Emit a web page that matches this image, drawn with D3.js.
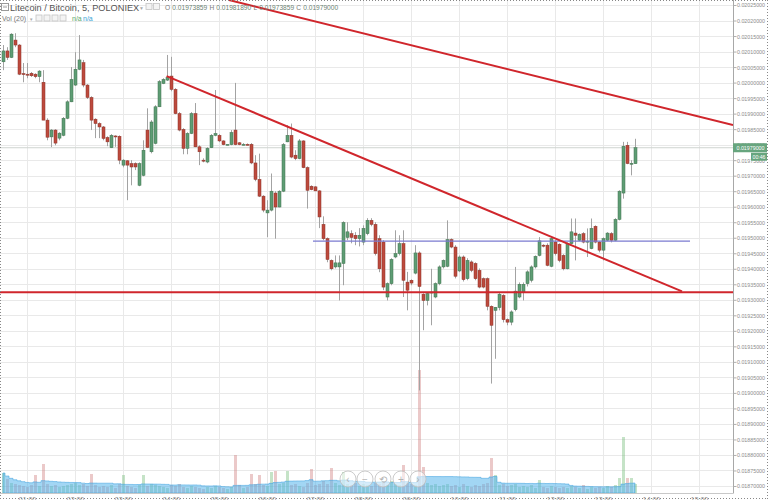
<!DOCTYPE html>
<html>
<head>
<meta charset="utf-8">
<script src="https://cdnjs.cloudflare.com/ajax/libs/d3/7.8.5/d3.min.js"></script>
<style>
	body { margin: 0; background: #ffffff; overflow: hidden; }
	#chart_div { width: 768px; height: 500px; }
	text { font-family: 'Liberation Sans', Arial, sans-serif; }
</style>
</head>
<body>
<div id="chart_div"></div>
<script>
// LTC/BTC 5 minute candles, Poloniex
var candle_start = '2017-06-05T00:30:00Z';
var candle_minutes = 5;

var opens = [
	0.020067, 0.020102, 0.020081, 0.020137, 0.020121, 0.020029, 0.020027, 0.02003, 0.020027, 0.020019,
	0.020001, 0.019879, 0.019825, 0.019847, 0.019821, 0.01983, 0.019885, 0.019938, 0.019992, 0.020043,
	0.020064, 0.019992, 0.019952, 0.019882, 0.019868, 0.019857, 0.019823, 0.01979, 0.019828, 0.019827,
	0.019734, 0.019748, 0.019739, 0.019739, 0.019669, 0.019701, 0.019847, 0.019777, 0.019804, 0.019922,
	0.019997, 0.020008, 0.020021, 0.019978, 0.0199, 0.019849, 0.019788, 0.019836, 0.0199, 0.019793,
	0.01975, 0.019744, 0.01979, 0.01983, 0.01983, 0.019812, 0.0198, 0.0198, 0.019847, 0.019806,
	0.0198, 0.019801, 0.019801, 0.019741, 0.019688, 0.019634, 0.01958, 0.019589, 0.019644, 0.019599,
	0.01965, 0.019809, 0.01983, 0.019766, 0.019755, 0.019812, 0.019726, 0.019666, 0.019664, 0.019651,
	0.019543, 0.019497, 0.019427, 0.019406, 0.019406, 0.019417, 0.019501, 0.019513, 0.019508, 0.019497,
	0.019486, 0.019513, 0.019556, 0.019543, 0.019497, 0.019486, 0.019309, 0.019352, 0.019438, 0.019449,
	0.019481, 0.019357, 0.019363, 0.019386, 0.019451, 0.019318, 0.019298, 0.019322, 0.019309, 0.019352,
	0.019406, 0.019408, 0.019494, 0.01947, 0.019393, 0.019438, 0.019368, 0.019422, 0.019417, 0.019395,
	0.019368, 0.019368, 0.019279, 0.019266, 0.019275, 0.019314, 0.019236, 0.019228, 0.019268, 0.019309,
	0.019325, 0.019352, 0.019363, 0.019406, 0.019443, 0.019476, 0.019476, 0.019408, 0.019486, 0.019479,
	0.019443, 0.0194, 0.019481, 0.019515, 0.019492, 0.019513, 0.019486, 0.019465, 0.019537, 0.019486,
	0.01946, 0.019492, 0.019513, 0.019492, 0.019559, 0.019644, 0.019798, 0.019739, 0.01973859
];
var highs = [
	0.020121, 0.020114, 0.020159, 0.020159, 0.020124, 0.020063, 0.020063, 0.020034, 0.02003, 0.02004,
	0.02004, 0.019885, 0.01985, 0.01985, 0.01984, 0.019889, 0.019943, 0.02005, 0.020098, 0.020153,
	0.020073, 0.019995, 0.019956, 0.019885, 0.019872, 0.01986, 0.019827, 0.019834, 0.01983, 0.01983,
	0.019753, 0.01975, 0.01975, 0.019743, 0.019743, 0.019814, 0.019917, 0.019879, 0.019927, 0.020008,
	0.020014, 0.020089, 0.020083, 0.019982, 0.019905, 0.019853, 0.01984, 0.019905, 0.019934, 0.019798,
	0.019756, 0.019792, 0.019834, 0.019976, 0.019834, 0.019814, 0.019801, 0.019847, 0.019999, 0.019808,
	0.019805, 0.019804, 0.019805, 0.019766, 0.019771, 0.019637, 0.019621, 0.019707, 0.01965, 0.019653,
	0.019805, 0.019863, 0.019868, 0.019782, 0.019818, 0.019814, 0.01973, 0.019669, 0.019666, 0.019653,
	0.019569, 0.019501, 0.01943, 0.019443, 0.019443, 0.019553, 0.01955, 0.019524, 0.019518, 0.019531,
	0.01954, 0.019563, 0.019563, 0.01955, 0.019508, 0.019492, 0.019356, 0.019434, 0.019524, 0.019508,
	0.019524, 0.01939, 0.019366, 0.019476, 0.019456, 0.019321, 0.019324, 0.0194, 0.019356, 0.019411,
	0.01943, 0.019556, 0.019498, 0.019476, 0.019443, 0.019443, 0.019434, 0.019427, 0.019421, 0.019401,
	0.019372, 0.019372, 0.019282, 0.019277, 0.019324, 0.019318, 0.01924, 0.019266, 0.019406, 0.019356,
	0.019356, 0.019395, 0.019411, 0.019443, 0.019502, 0.019479, 0.019482, 0.019501, 0.019492, 0.019482,
	0.019447, 0.019485, 0.019562, 0.019562, 0.019514, 0.019518, 0.01953, 0.019562, 0.01954, 0.019489,
	0.019501, 0.019518, 0.019518, 0.019563, 0.019653, 0.019809, 0.019809, 0.01975, 0.0198189
];
var lows = [
	0.02004, 0.020073, 0.020079, 0.020114, 0.020024, 0.020001, 0.020014, 0.020018, 0.020014, 0.020001,
	0.019879, 0.019814, 0.019792, 0.019798, 0.019814, 0.019827, 0.019882, 0.019937, 0.019989, 0.02004,
	0.019985, 0.019947, 0.019847, 0.019821, 0.019821, 0.019814, 0.019795, 0.019789, 0.019793, 0.019737,
	0.019727, 0.019621, 0.019669, 0.019718, 0.019666, 0.019698, 0.019789, 0.019772, 0.019801, 0.019921,
	0.019995, 0.020005, 0.019972, 0.019898, 0.019843, 0.019769, 0.019769, 0.019834, 0.019792, 0.019734,
	0.019743, 0.01974, 0.019789, 0.019827, 0.019808, 0.019798, 0.019798, 0.019798, 0.019798, 0.019798,
	0.019798, 0.019798, 0.019737, 0.019682, 0.019631, 0.019582, 0.019502, 0.019585, 0.019497, 0.019598,
	0.019647, 0.019808, 0.019756, 0.01975, 0.019753, 0.019724, 0.019594, 0.019653, 0.01965, 0.019531,
	0.019492, 0.019421, 0.019395, 0.019401, 0.019298, 0.019347, 0.019492, 0.019482, 0.019476, 0.019472,
	0.019476, 0.019508, 0.019537, 0.019443, 0.019389, 0.019331, 0.019298, 0.019347, 0.019434, 0.019443,
	0.019309, 0.019266, 0.019347, 0.019382, 0.019008, 0.019202, 0.019282, 0.019218, 0.019305, 0.019347,
	0.019401, 0.019405, 0.019466, 0.019369, 0.019389, 0.019359, 0.019363, 0.019389, 0.019363, 0.019337,
	0.019337, 0.019266, 0.01903, 0.01911, 0.019266, 0.019227, 0.019218, 0.019218, 0.019263, 0.019305,
	0.019298, 0.019343, 0.019356, 0.019401, 0.01944, 0.019469, 0.019408, 0.019405, 0.019443, 0.019421,
	0.019395, 0.019398, 0.019479, 0.019427, 0.019489, 0.019482, 0.019438, 0.019463, 0.019482, 0.019453,
	0.019427, 0.019489, 0.019485, 0.019489, 0.019556, 0.019626, 0.019737, 0.019701, 0.01973859
];
var closes = [
	0.020102, 0.020081, 0.020156, 0.020121, 0.020027, 0.020026, 0.020026, 0.020022, 0.020019, 0.020037,
	0.019879, 0.019824, 0.019847, 0.019805, 0.019837, 0.019885, 0.019938, 0.02001, 0.020043, 0.020073,
	0.019992, 0.019952, 0.019879, 0.019868, 0.019857, 0.01982, 0.019809, 0.01983, 0.019827, 0.01975,
	0.01975, 0.019734, 0.019728, 0.019728, 0.019739, 0.019782, 0.019791, 0.019873, 0.019922, 0.020003,
	0.02001, 0.020017, 0.019978, 0.0199, 0.019847, 0.019788, 0.019836, 0.0199, 0.019793, 0.019777,
	0.019748, 0.019788, 0.01983, 0.019836, 0.019812, 0.0198, 0.019801, 0.019839, 0.0198, 0.0198,
	0.019801, 0.0198, 0.019741, 0.019688, 0.019634, 0.019589, 0.019589, 0.01965, 0.019599, 0.01965,
	0.0198, 0.01983, 0.01976, 0.019755, 0.019812, 0.019726, 0.019653, 0.019655, 0.019651, 0.019567,
	0.019497, 0.01943, 0.0194, 0.019419, 0.019419, 0.019549, 0.019519, 0.019501, 0.019497, 0.019508,
	0.01953, 0.019556, 0.019543, 0.019449, 0.0194, 0.019341, 0.019352, 0.01943, 0.019449, 0.019481,
	0.019363, 0.019331, 0.019354, 0.019451, 0.019343, 0.019298, 0.01932, 0.019325, 0.019352, 0.019406,
	0.019427, 0.019494, 0.01947, 0.019376, 0.019438, 0.019365, 0.019427, 0.019395, 0.019368, 0.019341,
	0.019341, 0.019279, 0.019218, 0.019276, 0.019318, 0.019236, 0.019228, 0.019261, 0.019328, 0.01935,
	0.01935, 0.01939, 0.019406, 0.01944, 0.01949, 0.019473, 0.019411, 0.019497, 0.019449, 0.019427,
	0.0194, 0.019481, 0.019519, 0.019508, 0.019511, 0.019486, 0.019489, 0.01953, 0.019486, 0.01946,
	0.019497, 0.019515, 0.019492, 0.019559, 0.01965, 0.019795, 0.019739, 0.01974, 0.01979
];
var volumes = [
	20, 14, 10, 9, 8, 7, 6, 8, 18, 7,
	29, 9, 7, 8, 6, 7, 8, 9, 10, 8,
	9, 7, 19, 8, 6, 7, 6, 8, 5, 9,
	18, 7, 6, 5, 8, 18, 7, 9, 8, 7,
	6, 5, 8, 7, 9, 6, 5, 7, 6, 5,
	4, 6, 5, 7, 6, 5, 4, 6, 38, 8,
	5, 6, 19, 9, 18, 8, 7, 21, 22, 9,
	10, 22, 8, 9, 7, 6, 10, 24, 8, 9,
	12, 9, 25, 10, 8, 21, 9, 8, 10, 7,
	9, 8, 7, 10, 9, 11, 8, 12, 9, 8,
	28, 10, 9, 8, 123, 26, 10, 8, 9, 7,
	8, 9, 7, 8, 6, 9, 7, 6, 8, 7,
	9, 10, 35, 18, 8, 9, 7, 8, 9, 6,
	7, 6, 8, 5, 13, 6, 5, 7, 6, 5,
	6, 5, 7, 6, 5, 8, 4, 6, 5, 6,
	5, 7, 6, 8, 15, 56, 15, 15, 9
];

var price_ticks = [
	0.0187, 0.01875, 0.0188, 0.01885, 0.0189, 0.01895, 0.019, 0.01905,
	0.0191, 0.01915, 0.0192, 0.01925, 0.0193, 0.01935, 0.0194, 0.01945,
	0.0195, 0.01955, 0.0196, 0.01965, 0.0197, 0.01975, 0.0198, 0.01985,
	0.0199, 0.01995, 0.02, 0.02005, 0.0201, 0.02015, 0.0202, 0.02025
];
var hour_labels = ['01:00', '02:00', '03:00', '04:00', '05:00', '06:00', '07:00', '08:00',
	'09:00', '10:00', '11:00', '12:00', '13:00', '14:00', '15:00'];

// drawings: [candle index, price]
var trend_lines = [
	[[56.5, 0.020266], [182.5, 0.019863]],
	[[40.9, 0.020021], [169.75, 0.019327]]
];
var support_level = 0.019324;
var range_level = [[77.5, 0.019489], [171.75, 0.019489]];
var last_price = 0.01979;

var header_ohlc = ['O', '0.01973859', 'H', '0.01981890', 'L', '0.01973859', 'C', '0.01979000'];

var plot_right = 733;
var plot_bottom = 493;

function candle_time(i) {
	return new Date(Date.parse(candle_start) + i * candle_minutes * 60000);
}

function draw_svg(div_id) {
	var chart_div = document.getElementById(div_id);
	var svg = d3
		.select('#' + div_id)
		.append('svg')
		.attr('width', chart_div.clientWidth)
		.attr('height', chart_div.clientHeight);
	return svg;
}

function draw_chart() {
	var svg = draw_svg('chart_div');

	var x = d3
		.scaleUtc()
		.domain([candle_time(-0.75), candle_time(182.5)])
		.range([0, plot_right]);
	var y = d3.scaleLinear().domain([0.0187, 0.02025]).range([486, 5]);
	var vol_y = d3
		.scaleLinear()
		.domain([0, d3.max(volumes)])
		.range([plot_bottom, 370]);
	var xi = (i) => x(candle_time(i));

	var day = candle_start.slice(0, 10);
	var hour_times = hour_labels.map((h) => new Date(day + 'T' + h + ':00Z'));

	svg.append('defs')
		.append('clipPath')
		.attr('id', 'plot_clip')
		.append('rect')
		.attr('width', plot_right)
		.attr('height', plot_bottom);

	var plot = svg.append('g').attr('clip-path', 'url(#plot_clip)');

	// grid
	plot.selectAll('.h_grid')
		.data(price_ticks)
		.enter()
		.append('line')
		.attr('x1', 0)
		.attr('x2', plot_right)
		.attr('y1', (d) => Math.round(y(d)) + 0.5)
		.attr('y2', (d) => Math.round(y(d)) + 0.5)
		.attr('stroke', '#e9e9e9');
	plot.selectAll('.v_grid')
		.data(hour_times)
		.enter()
		.append('line')
		.attr('x1', (d) => Math.round(x(d)) + 0.5)
		.attr('x2', (d) => Math.round(x(d)) + 0.5)
		.attr('y1', 0)
		.attr('y2', plot_bottom)
		.attr('stroke', '#e9e9e9');

	var candles = opens.map(function (o, i) {
		return { i: i, o: o, h: highs[i], l: lows[i], c: closes[i], v: volumes[i] };
	});

	// volume + 20 period average
	plot.selectAll('.vol')
		.data(candles)
		.enter()
		.append('rect')
		.attr('x', (d) => Math.round(xi(d.i)) - 1)
		.attr('width', 3)
		.attr('y', (d) => vol_y(d.v))
		.attr('height', (d) => plot_bottom - vol_y(d.v))
		.attr('fill', (d) => (d.c >= d.o ? 'rgba(110,185,115,0.4)' : 'rgba(205,120,120,0.4)'));

	var vol_ma = volumes.map((v, i) => d3.mean(volumes.slice(Math.max(0, i - 19), i + 1)));
	var area = d3
		.area()
		.x((d, i) => xi(i))
		.y0(plot_bottom)
		.y1((d) => vol_y(d))
		.curve(d3.curveStep);
	plot.append('path')
		.datum(vol_ma)
		.attr('d', area)
		.attr('fill', 'rgba(85,180,235,0.55)')
		.attr('stroke', 'rgba(70,165,225,0.7)')
		.attr('stroke-width', 0.8);

	// last price line
	plot.append('line')
		.attr('x1', 0)
		.attr('x2', plot_right)
		.attr('y1', y(last_price))
		.attr('y2', y(last_price))
		.attr('stroke', '#cfd4d0')
		.attr('stroke-width', 1);

	// candles
	plot.selectAll('.wick')
		.data(candles)
		.enter()
		.append('line')
		.attr('x1', (d) => Math.round(xi(d.i)) + 0.5)
		.attr('x2', (d) => Math.round(xi(d.i)) + 0.5)
		.attr('y1', (d) => y(d.h))
		.attr('y2', (d) => y(d.l))
		.attr('stroke', '#a3a3a3');
	plot.selectAll('.body')
		.data(candles)
		.enter()
		.append('rect')
		.attr('x', (d) => Math.round(xi(d.i)) - 1)
		.attr('width', 3)
		.attr('y', (d) => y(Math.max(d.o, d.c)))
		.attr('height', (d) => Math.max(1, Math.abs(y(d.o) - y(d.c))))
		.attr('fill', (d) => (d.c >= d.o ? '#5e9d74' : '#bd4a3d'))
		.attr('stroke', (d) => (d.c >= d.o ? '#40724f' : '#8c3329'))
		.attr('stroke-width', 0.5);

	// drawings
	plot.append('line')
		.attr('x1', 0)
		.attr('x2', plot_right)
		.attr('y1', y(support_level))
		.attr('y2', y(support_level))
		.attr('stroke', '#d0262c')
		.attr('stroke-width', 2);
	plot.append('line')
		.attr('x1', xi(range_level[0][0]))
		.attr('x2', xi(range_level[1][0]))
		.attr('y1', y(range_level[0][1]))
		.attr('y2', y(range_level[1][1]))
		.attr('stroke', '#7b7bd0')
		.attr('stroke-width', 1.2);
	plot.selectAll('.trend')
		.data(trend_lines)
		.enter()
		.append('line')
		.attr('x1', (d) => xi(d[0][0]))
		.attr('y1', (d) => y(d[0][1]))
		.attr('x2', (d) => xi(d[1][0]))
		.attr('y2', (d) => y(d[1][1]))
		.attr('stroke', '#d0262c')
		.attr('stroke-width', 2);

	draw_axes(svg, x, y, hour_times);
	draw_header(svg);
	draw_buttons(svg);

	// frame
	var frame = [
		[0.5, 0, 0.5, 500],
		[0, 0.5, 768, 0.5],
		[767.5, 0, 767.5, 500],
		[0, 498.5, 768, 498.5]
	];
	svg.selectAll('.frame')
		.data(frame)
		.enter()
		.append('line')
		.attr('x1', (d) => d[0])
		.attr('y1', (d) => d[1])
		.attr('x2', (d) => d[2])
		.attr('y2', (d) => d[3])
		.attr('stroke', '#888')
		.attr('stroke-dasharray', '1,2');
}

function draw_axes(svg, x, y, hour_times) {
	var y_axis = svg
		.append('g')
		.attr('transform', 'translate(' + (plot_right + 0.5) + ',0)')
		.call(d3.axisRight(y).tickValues(price_ticks).tickFormat(d3.format('.8f')).tickSize(3).tickPadding(0.5));
	y_axis.select('.domain').attr('stroke', '#a8a8a8').attr('d', 'M0,0V' + (plot_bottom + 0.5));
	y_axis.selectAll('.tick line').attr('stroke', '#b0b0b0');
	y_axis.selectAll('.tick text')
		.attr('fill', '#8c8c8c')
		.attr('font-size', 6.2)
		.attr('textLength', 28)
		.attr('lengthAdjust', 'spacingAndGlyphs')
		.attr('font-family', "'Liberation Sans Narrow', 'Liberation Sans', Arial, sans-serif");

	svg.append('line')
		.attr('x1', 0)
		.attr('x2', plot_right)
		.attr('y1', plot_bottom + 0.5)
		.attr('y2', plot_bottom + 0.5)
		.attr('stroke', '#c8c8c8');

	var x_axis = svg
		.append('g')
		.attr('transform', 'translate(0,' + plot_bottom + ')')
		.call(d3.axisBottom(x).tickValues(hour_times).tickFormat(d3.utcFormat('%H:%M')).tickSize(0).tickPadding(4));
	x_axis.select('.domain').remove();
	x_axis.selectAll('.tick text')
		.attr('fill', '#8c8c8c')
		.attr('font-size', 7)
		.attr('font-family', "'Liberation Sans', Arial, sans-serif");

	// last price + countdown
	var py = y(last_price);
	svg.append('rect')
		.attr('x', plot_right)
		.attr('y', py - 4.5)
		.attr('width', 34)
		.attr('height', 9)
		.attr('fill', '#67a57e');
	svg.append('text')
		.attr('x', plot_right + 3.5)
		.attr('y', py + 2.3)
		.attr('fill', '#ffffff')
		.attr('font-size', 6.2)
		.attr('textLength', 28)
		.attr('lengthAdjust', 'spacingAndGlyphs')
		.attr('font-family', "'Liberation Sans Narrow', 'Liberation Sans', Arial, sans-serif")
		.text(d3.format('.8f')(last_price));
	svg.append('rect')
		.attr('x', 751)
		.attr('y', py + 5)
		.attr('width', 16)
		.attr('height', 8)
		.attr('fill', '#67a57e');
	svg.append('text')
		.attr('x', 752.5)
		.attr('y', py + 11.3)
		.attr('fill', '#ffffff')
		.attr('font-size', 5.8)
		.attr('textLength', 13)
		.attr('lengthAdjust', 'spacingAndGlyphs')
		.attr('font-family', "'Liberation Sans Narrow', 'Liberation Sans', Arial, sans-serif")
		.text('00:46');
}

function draw_header(svg) {
	var g = svg.append('g');
	g.append('rect')
		.attr('x', 1.5)
		.attr('y', 3.5)
		.attr('width', 7)
		.attr('height', 7)
		.attr('fill', 'none')
		.attr('stroke', '#9a9a9a');
	g.append('line')
		.attr('x1', 3)
		.attr('x2', 7)
		.attr('y1', 7)
		.attr('y2', 7)
		.attr('stroke', '#9a9a9a');
	g.append('text')
		.attr('x', 10)
		.attr('y', 11)
		.attr('font-size', 9.2)
		.attr('fill', '#555555')
		.text('Litecoin / Bitcoin, 5, POLONIEX');
	g.append('text')
		.attr('x', 139)
		.attr('y', 10)
		.attr('font-size', 5)
		.attr('fill', '#aaaaaa')
		.text('▼');

	var boxes = [[146, 3.5], [153.5, 3.5], [36, 15], [44, 15], [52, 15], [60, 15]];
	g.selectAll('.hbox')
		.data(boxes)
		.enter()
		.append('rect')
		.attr('x', (d) => d[0])
		.attr('y', (d) => d[1])
		.attr('width', 6)
		.attr('height', 6)
		.attr('fill', '#f4f4f4')
		.attr('stroke', '#c4c4c4')
		.attr('stroke-width', 0.8);

	var ohlc = g.append('text').attr('x', 165).attr('y', 10).attr('font-size', 6.6);
	header_ohlc.forEach(function (t, i) {
		ohlc.append('tspan')
			.attr('fill', i % 2 === 0 ? '#7a7a7a' : '#6d8474')
			.attr('dx', i === 0 ? 0 : 2.2)
			.text(t);
	});

	g.append('text')
		.attr('x', 2)
		.attr('y', 21)
		.attr('font-size', 7)
		.attr('fill', '#777777')
		.text('Vol (20)');
	g.append('text')
		.attr('x', 29)
		.attr('y', 20.5)
		.attr('font-size', 4.5)
		.attr('fill', '#aaaaaa')
		.text('▼');
	g.append('text')
		.attr('x', 72)
		.attr('y', 21)
		.attr('font-size', 7)
		.attr('fill', '#58a86a')
		.text('n/a');
	g.append('text')
		.attr('x', 83)
		.attr('y', 21)
		.attr('font-size', 7)
		.attr('fill', '#3aa3d6')
		.text('n/a');
}

function draw_buttons(svg) {
	var buttons = [
		[348, '‹'],
		[365, '−'],
		[383, '⟲'],
		[401, '+'],
		[418, '›']
	];
	var b = svg
		.selectAll('.nav_button')
		.data(buttons)
		.enter()
		.append('g')
		.attr('transform', (d) => 'translate(' + d[0] + ',479)');
	b.append('circle')
		.attr('r', 8)
		.attr('fill', 'rgba(255,255,255,0.55)')
		.attr('stroke', 'rgba(190,190,190,0.8)');
	b.append('text')
		.attr('text-anchor', 'middle')
		.attr('y', 3.5)
		.attr('font-size', 10)
		.attr('fill', 'rgba(170,170,170,0.9)')
		.text((d) => d[1]);
}

draw_chart();
</script>
</body>
</html>
